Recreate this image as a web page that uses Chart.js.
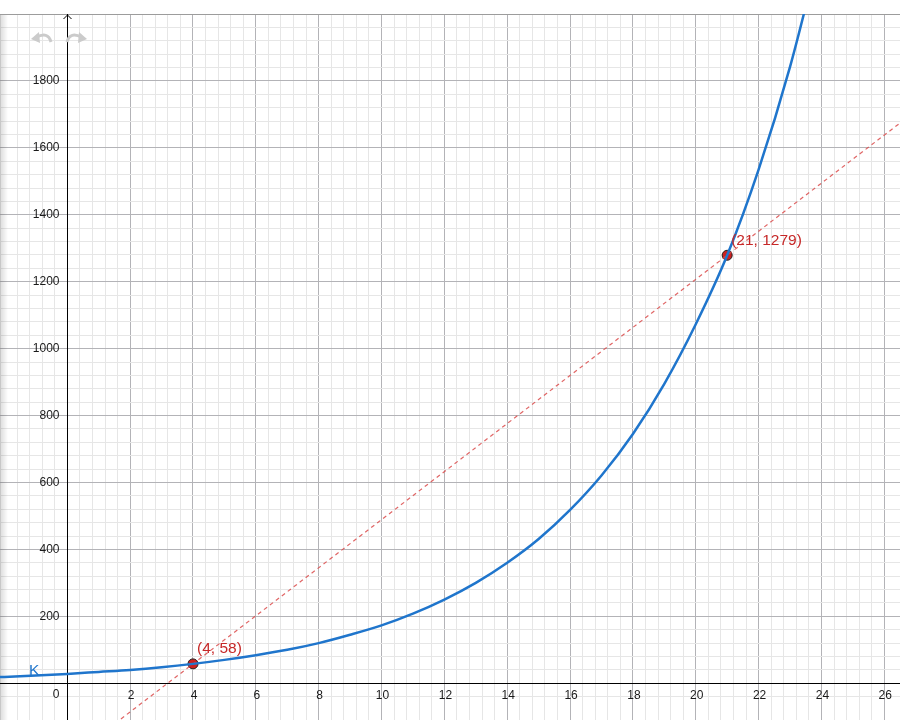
<!DOCTYPE html>
<html>
<head>
<meta charset="utf-8">
<script src="https://cdn.jsdelivr.net/npm/chart.js@4.4.0/dist/chart.umd.min.js"></script>
<style>
  html, body { margin: 0; padding: 0; background: #fff; }
  #c { display: block; }
</style>
</head>
<body>
<canvas id="c" width="900" height="720"></canvas>
<script>
/* ===== DATA ===== */
// curve K, sampled at whole x values
const curveX = [-3, -2, -1, 0, 1, 2, 3, 4, 5, 6, 7, 8, 9, 10, 11, 12, 13, 14, 15, 16, 17, 18, 19, 20, 21, 22, 23, 24];
const curveY = [16, 19, 23, 28, 34, 40, 48, 58, 70, 84, 100, 120, 145, 173, 208, 250, 300, 360, 431, 518, 621, 745, 895, 1073, 1279, 1535, 1842, 2210];
// dashed line through the two marked points
const lineX = [0, 4, 21, 27];
const lineY = [-229, 58, 1279, 1710];
// marked points and their labels
const pointX = [4, 21];
const pointY = [58, 1279];
const pointLabels = ['(4, 58)', '(21, 1279)'];
// axis tick labels
const xLabelValues = [2, 4, 6, 8, 10, 12, 14, 16, 18, 20, 22, 24, 26];
const yLabelValues = [200, 400, 600, 800, 1000, 1200, 1400, 1600, 1800];

/* ===== STYLE ===== */
const C = {
    major: '#b3b3b7', minor: '#e6e6e6', axis: '#000', label: '#1a1a1a',
    curve: '#1f75cc', dash: 'rgba(218,74,74,.85)', point: '#cc2020', pointText: '#c62828'
};
const FONT = '"Liberation Sans", Arial, sans-serif';
const isMultiple = (v, step) => Math.abs(v / step - Math.round(v / step)) < 1e-6;

const geoDecor = {
    id: 'geoDecor',
    beforeDraw(chart) {
        const { ctx, width, height } = chart;
        ctx.save();
        ctx.fillStyle = '#fff';
        ctx.fillRect(0, 0, width, height);
        ctx.restore();
    },
    beforeDatasetsDraw(chart) {
        const { ctx, chartArea: a, scales: { x, y } } = chart;
        const x0 = Math.round(x.getPixelForValue(0)) + 0.5;
        const y0 = Math.round(y.getPixelForValue(0)) + 0.5;
        ctx.save();
        // soft shadow on the left edge
        const g = ctx.createLinearGradient(a.left, 0, a.left + 8, 0);
        g.addColorStop(0, 'rgba(0,0,0,.14)');
        g.addColorStop(1, 'rgba(0,0,0,0)');
        ctx.fillStyle = g;
        ctx.fillRect(a.left, a.top, 8, a.bottom - a.top);
        // frame line on top
        ctx.strokeStyle = '#9c9c9c';
        ctx.lineWidth = 1;
        ctx.beginPath();
        ctx.moveTo(a.left, Math.round(a.top) + 0.5); ctx.lineTo(a.right, Math.round(a.top) + 0.5);
        ctx.stroke();
        // axes
        ctx.strokeStyle = C.axis;
        ctx.beginPath();
        ctx.moveTo(a.left, y0); ctx.lineTo(a.right, y0);
        ctx.moveTo(x0, a.top); ctx.lineTo(x0, a.bottom);
        ctx.stroke();
        ctx.beginPath();
        ctx.moveTo(x0 - 4, a.top + 5); ctx.lineTo(x0, a.top + 1); ctx.lineTo(x0 + 4, a.top + 5);
        ctx.stroke();
        // tick labels
        ctx.fillStyle = C.label;
        ctx.font = '12px ' + FONT;
        ctx.textBaseline = 'middle';
        ctx.textAlign = 'center';
        xLabelValues.forEach(v => ctx.fillText(String(v), x.getPixelForValue(v) + 1, y0 + 12));
        ctx.textAlign = 'right';
        yLabelValues.forEach(v => ctx.fillText(String(v), x0 - 8, y.getPixelForValue(v)));
        ctx.fillText('0', x0 - 8, y0 + 11);
        ctx.restore();
    },
    afterDatasetsDraw(chart) {
        const { ctx } = chart;
        ctx.save();
        ctx.font = '15.5px ' + FONT;
        ctx.textBaseline = 'middle';
        ctx.textAlign = 'left';
        // point labels
        ctx.fillStyle = C.pointText;
        chart.getDatasetMeta(2).data.forEach((el, i) => ctx.fillText(pointLabels[i], el.x + 4, el.y - 15));
        // curve name
        const k = chart.getDatasetMeta(0).data[2];
        ctx.fillStyle = C.curve;
        ctx.textBaseline = 'alphabetic';
        ctx.fillText('K', k.x - 7, k.y - 1);
        ctx.restore();
    },
    afterDraw(chart) {
        // undo / redo icons
        const { ctx } = chart;
        ctx.save();
        ctx.strokeStyle = '#cbcbcb';
        ctx.fillStyle = '#cbcbcb';
        ctx.lineWidth = 3;
        [[1, 0], [-1, 118]].forEach(([s, o]) => {
            ctx.beginPath();
            ctx.moveTo(o + s * 36, 37.5);
            ctx.quadraticCurveTo(o + s * 48, 31, o + s * 51, 42);
            ctx.stroke();
            ctx.beginPath();
            ctx.moveTo(o + s * 31, 39);
            ctx.lineTo(o + s * 39, 32);
            ctx.lineTo(o + s * 40, 43);
            ctx.closePath();
            ctx.fill();
        });
        ctx.restore();
    }
};

const toXY = (xs, ys) => xs.map((v, i) => ({ x: v, y: ys[i] }));

new Chart(document.getElementById('c'), {
    type: 'scatter',
    data: {
        datasets: [
            { label: 'K', data: toXY(curveX, curveY), showLine: true, borderColor: C.curve, borderWidth: 2.5,
              pointRadius: 0, cubicInterpolationMode: 'monotone', fill: false },
            { label: 'line', data: toXY(lineX, lineY), showLine: true, borderColor: C.dash, borderWidth: 1.2,
              borderDash: [4, 3.5], pointRadius: 0, fill: false },
            { label: 'points', data: toXY(pointX, pointY), showLine: false, pointRadius: 5,
              pointBackgroundColor: C.point, pointBorderColor: '#222', pointBorderWidth: 1 }
        ]
    },
    options: {
        responsive: false,
        animation: false,
        layout: { autoPadding: false, padding: { top: 14, left: 0, right: 0, bottom: 0 } },
        plugins: { legend: { display: false }, tooltip: { enabled: false } },
        scales: {
            x: {
                type: 'linear', min: -2.142, max: 26.5,
                ticks: { display: false, stepSize: 0.4, autoSkip: false },
                grid: { drawTicks: false, color: c => isMultiple(c.tick.value, 2) ? C.major : C.minor },
                border: { display: false }
            },
            y: {
                type: 'linear', min: -109.7, max: 2000,
                ticks: { display: false, stepSize: 40, autoSkip: false },
                grid: { drawTicks: false, color: c => isMultiple(c.tick.value, 200) ? C.major : C.minor },
                border: { display: false }
            }
        }
    },
    plugins: [geoDecor]
});
</script>
</body>
</html>
